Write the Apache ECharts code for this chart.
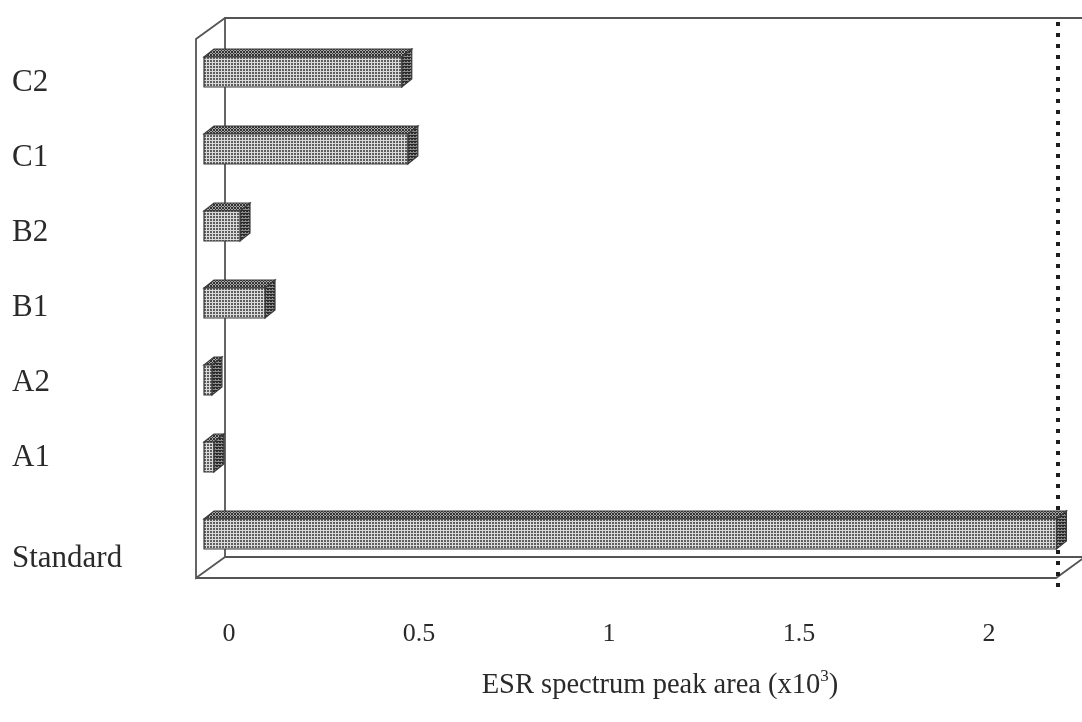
<!DOCTYPE html>
<html><head><meta charset="utf-8">
<script src="https://cdn.jsdelivr.net/npm/echarts@6/dist/echarts.min.js"></script>
<style>html,body{margin:0;padding:0;background:#fff}#c{width:1082px;height:722px}</style>
</head><body><div id="c"></div>
<script>
// ---- data ----
const categories = ['Standard', 'A1', 'A2', 'B1', 'B2', 'C1', 'C2'];
const peakArea = [2.25, 0.026, 0.021, 0.161, 0.095, 0.538, 0.522];
const xTicks = [0, 0.5, 1, 1.5, 2];
const axisMax = 2.27;
const axisTitle = 'ESR spectrum peak area (x10';
const axisTitleSup = '3';

// ---- patterns ----
function makePattern(bg, fg, size, dots) {
  const c = document.createElement('canvas');
  c.width = size; c.height = size;
  const g = c.getContext('2d');
  g.fillStyle = bg; g.fillRect(0, 0, size, size);
  g.fillStyle = fg;
  dots.forEach(d => g.fillRect(d[0], d[1], d[2], d[3]));
  return { image: c, repeat: 'repeat' };
}
const frontPat = makePattern('#dadada', '#5e5e5e', 3, [[0, 0, 2, 2]]);
const topPat = makePattern('#a8a8a8', '#333333', 3, [[0, 0, 2, 2], [2, 2, 1, 1]]);
const sidePat = makePattern('#8c8c8c', '#2a2a2a', 3, [[0, 0, 2, 2], [2, 0, 1, 1]]);

const FONT = "'Liberation Serif', 'Times New Roman', serif";
const TXT = '#2a2a2a';

function renderBar(params, api) {
  const v = api.value(0), c = api.value(1);
  const p0 = api.coord([0, c]), p1 = api.coord([v, c]);
  const h = api.size([0, 1])[1] * 0.39;
  const x0 = p0[0], x1 = p1[0], yT = p0[1] - h / 2, yB = p0[1] + h / 2;
  const dx = 10, dy = 8;
  const st = { stroke: '#3a3a3a', lineWidth: 1.2 };
  return {
    type: 'group', children: [
      { type: 'polygon', shape: { points: [[x0, yT], [x1, yT], [x1 + dx, yT - dy], [x0 + dx, yT - dy]] }, style: Object.assign({ fill: topPat }, st) },
      { type: 'polygon', shape: { points: [[x1, yT], [x1 + dx, yT - dy], [x1 + dx, yB - dy], [x1, yB]] }, style: Object.assign({ fill: sidePat }, st) },
      { type: 'rect', shape: { x: x0, y: yT, width: x1 - x0, height: h }, style: Object.assign({ fill: frontPat }, st) }
    ]
  };
}

function renderFrame(params, api) {
  const cs = params.coordSys;
  const L = cs.x, T = cs.y, R = cs.x + cs.width, B = cs.y + cs.height;
  const bk = [21, -15.5], fr = [-8, 5.5];
  const bL = L + bk[0], bT = T + bk[1], bB = B + bk[1], bR = R + bk[0];
  const fL = L + fr[0], fT = T + fr[1], fB = B + fr[1], fR = R + fr[0];
  const ls = { stroke: '#555555', lineWidth: 1.8, fill: null };
  return {
    type: 'group', children: [
      { type: 'polyline', shape: { points: [[bL, bB], [bL, bT], [bR + 40, bT]] }, style: ls },
      { type: 'polyline', shape: { points: [[bL, bT], [fL, fT], [fL, fB], [bL, bB]] }, style: ls },
      { type: 'polyline', shape: { points: [[bL, bB], [bR + 40, bB]] }, style: ls },
      { type: 'polyline', shape: { points: [[fL, fB], [fR, fB], [bR, bB]] }, style: ls },
      { type: 'line', shape: { x1: fR + 2, y1: bT + 4, x2: fR + 2, y2: fB + 12 }, style: { stroke: '#1e1e1e', lineWidth: 4, lineDash: [4, 7] } }
    ]
  };
}

const chart = echarts.init(document.getElementById('c'), null, { renderer: 'canvas' });
chart.setOption({
  animation: false,
  backgroundColor: '#fff',
  grid: [
    { left: 204, top: 33.5, width: 860, height: 539 },
    { left: 229, top: 33.5, width: 760, height: 539 },
    { left: 204, top: 45, width: 860, height: 525 },
    { left: 300, top: 33.5, width: 720, height: 539 }
  ],
  xAxis: [
    { gridIndex: 0, type: 'value', min: 0, max: axisMax, show: false },
    {
      gridIndex: 1, type: 'value', min: 0, max: xTicks[xTicks.length - 1], interval: 0.5,
      axisLine: { show: false }, axisTick: { show: false }, splitLine: { show: false },
      axisLabel: {
        margin: 49, fontFamily: FONT, fontSize: 26, color: TXT,
        formatter: v => (xTicks.some(t => Math.abs(t - v) < 1e-9) ? String(v) : '')
      }
    },
    { gridIndex: 2, type: 'value', min: 0, max: axisMax, show: false },
    {
      gridIndex: 3, type: 'value', min: 0, max: 1,
      axisLine: { show: false }, axisTick: { show: false }, splitLine: { show: false },
      axisLabel: { show: false },
      name: '{a|' + axisTitle + '}{s|' + axisTitleSup + '}{a|)}',
      nameLocation: 'middle', nameGap: 94,
      nameTextStyle: {
        rich: {
          a: { fontFamily: FONT, fontSize: 28.5, color: TXT, lineHeight: 34, verticalAlign: 'bottom' },
          s: { fontFamily: FONT, fontSize: 17, color: TXT, lineHeight: 34, verticalAlign: 'top', padding: [2, 0, 0, 0] }
        }
      }
    }
  ],
  yAxis: [
    { gridIndex: 0, type: 'category', data: categories, show: false },
    { gridIndex: 1, type: 'category', data: categories, show: false },
    {
      gridIndex: 2, type: 'category', data: categories,
      axisLine: { show: false }, axisTick: { show: false },
      axisLabel: {
        margin: 192, align: 'left', color: TXT,
        formatter: v => (v === 'Standard' ? '{low|' + v + '}' : '{n|' + v + '}'),
        rich: {
          n: { fontFamily: FONT, fontSize: 31, color: TXT },
          low: { fontFamily: FONT, fontSize: 31, color: TXT, padding: [53, 0, 0, 0] }
        }
      }
    },
    { gridIndex: 3, type: 'category', data: categories, show: false }
  ],
  series: [
    {
      type: 'custom', xAxisIndex: 0, yAxisIndex: 0, z: 1, clip: false, silent: true,
      renderItem: renderFrame, data: [[0, 0]]
    },
    {
      type: 'custom', xAxisIndex: 0, yAxisIndex: 0, z: 5, clip: false,
      renderItem: renderBar, encode: { x: 0, y: 1 },
      data: categories.map((c, i) => [peakArea[i], c])
    }
  ]
});
</script></body></html>
